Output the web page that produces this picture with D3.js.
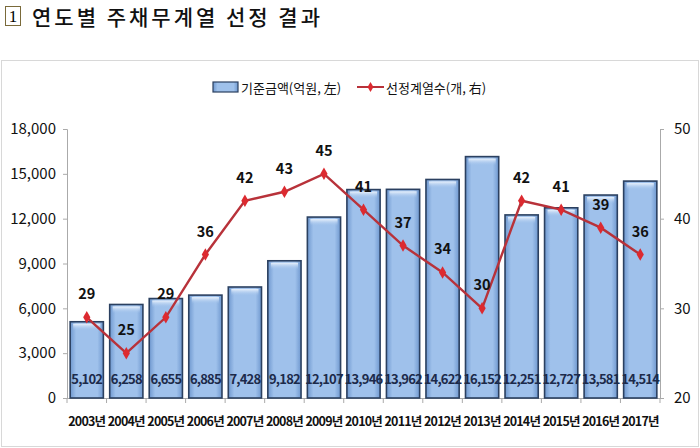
<!DOCTYPE html>
<html><head><meta charset="utf-8">
<script src="https://cdn.jsdelivr.net/npm/d3@7"></script>
<style>body{margin:0;background:#fff}svg{display:block}</style>
</head><body><svg id="c" width="700" height="448"></svg>
<script>
const years = ["2003년","2004년","2005년","2006년","2007년","2008년","2009년","2010년","2011년","2012년","2013년","2014년","2015년","2016년","2017년"];
const amounts = [5102,6258,6655,6885,7428,9182,12107,13946,13962,14622,16152,12251,12727,13581,14514];
const counts = [29,25,29,36,42,43,45,41,37,34,30,42,41,39,36];
const leftTicks = [0,3000,6000,9000,12000,15000,18000];
const rightTicks = [20,30,40,50];
const titleText = "연도별 주채무계열 선정 결과";
const legendBar = "기준금액(억원, 左)";
const legendLine = "선정계열수(개, 右)";

const svg = d3.select("#c");
const font = "'Noto Sans CJK KR','Noto Sans',sans-serif";
const m = {l:67, r:660, t:129, b:398};

const defs = svg.append("defs");
const g1 = defs.append("linearGradient").attr("id","barg").attr("x1","0").attr("x2","1").attr("y1","0").attr("y2","0");
[["0%","#6f98cf"],["18%","#9fc1eb"],["82%","#9fc1eb"],["100%","#6f98cf"]].forEach(s=>g1.append("stop").attr("offset",s[0]).attr("stop-color",s[1]));
const g2 = defs.append("linearGradient").attr("id","topg").attr("x1","0").attr("x2","0").attr("y1","0").attr("y2","1");
[["0%","#eaf2fc",1],["100%","#9fc1eb",0]].forEach(s=>g2.append("stop").attr("offset",s[0]).attr("stop-color",s[1]).attr("stop-opacity",s[2]));

// title
svg.append("rect").attr("x",5.5).attr("y",6.5).attr("width",15).attr("height",19).attr("fill","#fff").attr("stroke","#7a6a3a").attr("stroke-width",1);
svg.append("text").attr("x",13).attr("y",22).attr("text-anchor","middle").attr("font-family","'Liberation Serif',serif").attr("font-size",17).attr("fill","#000").text("1");
svg.append("text").attr("x",32).attr("y",25).attr("font-family",font).attr("font-size",21).attr("font-weight",500).attr("fill","#111").attr("letter-spacing","3").text(titleText);

// frame
svg.append("rect").attr("x",1.5).attr("y",60.5).attr("width",697).attr("height",386).attr("fill","none").attr("stroke","#d8d8d8").attr("stroke-width",1);

const x = d3.scaleBand().domain(years).range([m.l,m.r]).paddingInner(0.16).paddingOuter(0.08);
const yL = d3.scaleLinear().domain([0,18000]).range([m.b,m.t]);
const yR = d3.scaleLinear().domain([20,50]).range([m.b,m.t]);

// axes
const axL = svg.append("g").attr("transform",`translate(${m.l},0)`).call(d3.axisLeft(yL).tickValues(leftTicks).tickSize(4).tickPadding(7).tickFormat(d3.format(",")));
const axR = svg.append("g").attr("transform",`translate(${m.r},0)`).call(d3.axisRight(yR).tickValues(rightTicks).tickSize(4).tickPadding(10));
[axL,axR].forEach(a=>{a.select(".domain").attr("stroke","#aaa");a.selectAll(".tick line").attr("stroke","#aaa");a.selectAll("text").attr("font-family",font).attr("font-size",15).attr("fill","#111");});

// x axis
const xb = svg.append("g");
xb.append("line").attr("x1",m.l).attr("x2",m.r).attr("y1",m.b+0.5).attr("y2",m.b+0.5).attr("stroke","#aaa");
d3.range(years.length+1).forEach(i=>{
  const xx = m.l + (m.r-m.l)*i/years.length;
  xb.append("line").attr("x1",xx).attr("x2",xx).attr("y1",m.b).attr("y2",m.b+5).attr("stroke","#aaa");
});
xb.selectAll("text.xl").data(years).join("text").attr("class","xl")
  .attr("x",d=>x(d)+x.bandwidth()/2).attr("y",426).attr("text-anchor","middle")
  .attr("font-family",font).attr("font-size",12.5).attr("font-weight",700).attr("fill","#111").attr("letter-spacing","-0.8").text(d=>d);

// bars
const bars = svg.append("g");
bars.selectAll("rect.b").data(amounts).join("rect").attr("class","b")
  .attr("x",(d,i)=>x(years[i])).attr("y",d=>yL(d)).attr("width",x.bandwidth()).attr("height",d=>m.b-yL(d))
  .attr("fill","url(#barg)").attr("stroke","#2b4060").attr("stroke-width",1.6);
bars.selectAll("rect.h").data(amounts).join("rect").attr("class","h")
  .attr("x",(d,i)=>x(years[i])+3).attr("y",d=>yL(d)+2).attr("width",x.bandwidth()-6).attr("height",7)
  .attr("fill","url(#topg)");
bars.selectAll("text.v").data(amounts).join("text").attr("class","v")
  .attr("x",(d,i)=>x(years[i])+x.bandwidth()/2).attr("y",384).attr("text-anchor","middle")
  .attr("font-family",font).attr("font-size",13).attr("font-weight",700).attr("fill","#1c2a4a").attr("letter-spacing","-0.8")
  .text(d=>d3.format(",")(d));

// line
const cx = i=>x(years[i])+x.bandwidth()/2;
const line = d3.line().x((d,i)=>cx(i)).y(d=>yR(d));
svg.append("path").datum(counts).attr("d",line).attr("fill","none").attr("stroke","#b8323a").attr("stroke-width",2.4);
svg.append("g").selectAll("path").data(counts).join("path")
  .attr("transform",(d,i)=>`translate(${cx(i)},${yR(d)})`)
  .attr("d",d3.symbol(d3.symbolDiamond,45)).attr("fill","#dc2a30");
svg.append("g").selectAll("text").data(counts).join("text")
  .attr("x",(d,i)=>cx(i)).attr("y",d=>yR(d)-18).attr("text-anchor","middle")
  .attr("font-family",font).attr("font-size",14.5).attr("font-weight",700).attr("fill","#111").text(d=>d);

// legend
const lg = svg.append("g");
lg.append("rect").attr("x",213).attr("y",82).attr("width",25).attr("height",10).attr("fill","url(#barg)").attr("stroke","#2b4060").attr("stroke-width",1.2);
lg.append("text").attr("x",241).attr("y",93).attr("font-family",font).attr("font-size",13).attr("fill","#111").text(legendBar);
lg.append("line").attr("x1",357).attr("x2",384).attr("y1",87).attr("y2",87).attr("stroke","#b8323a").attr("stroke-width",2);
lg.append("path").attr("transform","translate(370.5,87)").attr("d",d3.symbol(d3.symbolDiamond,30)).attr("fill","#dc2a30");
lg.append("text").attr("x",386).attr("y",93).attr("font-family",font).attr("font-size",13).attr("fill","#111").text(legendLine);
</script></body></html>
